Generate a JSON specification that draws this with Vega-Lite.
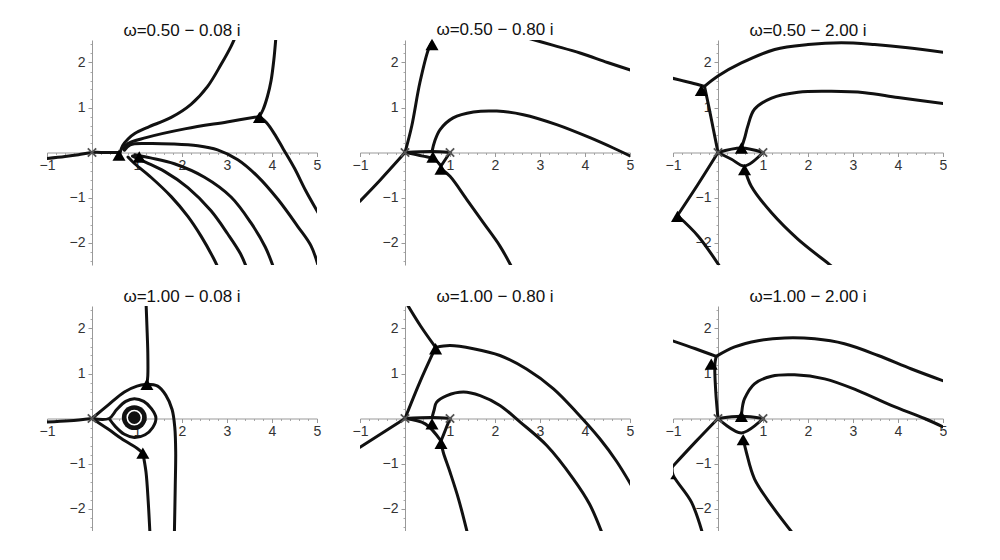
{
"$schema":"https://vega.github.io/schema/vega-lite/v6.json",
"padding":{"left":39,"top":20,"right":0,"bottom":0},
"data":{"values":[
{"p":"a","k":"l","c":"a1","o":0,"x":-1.05,"y":-0.14},{"p":"a","k":"l","c":"a1","o":1,"x":-0.6,"y":-0.09},{"p":"a","k":"l","c":"a1","o":2,"x":-0.3,"y":-0.05},{"p":"a","k":"l","c":"a1","o":3,"x":0,"y":0},{"p":"a","k":"l","c":"a1","o":4,"x":0.3,"y":0},{"p":"a","k":"l","c":"a1","o":5,"x":0.6,"y":0},
{"p":"a","k":"l","c":"a2","o":0,"x":0.62,"y":-0.02},{"p":"a","k":"l","c":"a2","o":1,"x":0.68,"y":0.15},{"p":"a","k":"l","c":"a2","o":2,"x":0.8,"y":0.3},{"p":"a","k":"l","c":"a2","o":3,"x":0.95,"y":0.42},{"p":"a","k":"l","c":"a2","o":4,"x":1.24,"y":0.56},{"p":"a","k":"l","c":"a2","o":5,"x":1.76,"y":0.78},{"p":"a","k":"l","c":"a2","o":6,"x":2.2,"y":1.07},{"p":"a","k":"l","c":"a2","o":7,"x":2.57,"y":1.47},{"p":"a","k":"l","c":"a2","o":8,"x":2.87,"y":1.96},{"p":"a","k":"l","c":"a2","o":9,"x":3.09,"y":2.36},{"p":"a","k":"l","c":"a2","o":10,"x":3.2,"y":2.6},
{"p":"a","k":"l","c":"a3","o":0,"x":0.7,"y":0.08},{"p":"a","k":"l","c":"a3","o":1,"x":0.8,"y":0.2},{"p":"a","k":"l","c":"a3","o":2,"x":1.2,"y":0.33},{"p":"a","k":"l","c":"a3","o":3,"x":2.09,"y":0.53},{"p":"a","k":"l","c":"a3","o":4,"x":3.0,"y":0.68},{"p":"a","k":"l","c":"a3","o":5,"x":3.72,"y":0.8},
{"p":"a","k":"l","c":"a4","o":0,"x":3.72,"y":0.8},{"p":"a","k":"l","c":"a4","o":1,"x":3.8,"y":0.95},{"p":"a","k":"l","c":"a4","o":2,"x":3.9,"y":1.25},{"p":"a","k":"l","c":"a4","o":3,"x":3.98,"y":1.6},{"p":"a","k":"l","c":"a4","o":4,"x":4.04,"y":2.05},{"p":"a","k":"l","c":"a4","o":5,"x":4.09,"y":2.6},
{"p":"a","k":"l","c":"a5","o":0,"x":3.72,"y":0.8},{"p":"a","k":"l","c":"a5","o":1,"x":3.88,"y":0.66},{"p":"a","k":"l","c":"a5","o":2,"x":4.05,"y":0.42},{"p":"a","k":"l","c":"a5","o":3,"x":4.25,"y":0.08},{"p":"a","k":"l","c":"a5","o":4,"x":4.5,"y":-0.35},{"p":"a","k":"l","c":"a5","o":5,"x":4.75,"y":-0.85},{"p":"a","k":"l","c":"a5","o":6,"x":5.05,"y":-1.38},
{"p":"a","k":"l","c":"a6","o":0,"x":0.72,"y":0.05},{"p":"a","k":"l","c":"a6","o":1,"x":0.85,"y":0.17},{"p":"a","k":"l","c":"a6","o":2,"x":1.2,"y":0.2},{"p":"a","k":"l","c":"a6","o":3,"x":1.8,"y":0.19},{"p":"a","k":"l","c":"a6","o":4,"x":2.35,"y":0.15},{"p":"a","k":"l","c":"a6","o":5,"x":2.79,"y":0.06},{"p":"a","k":"l","c":"a6","o":6,"x":3.24,"y":-0.16},{"p":"a","k":"l","c":"a6","o":7,"x":3.68,"y":-0.53},{"p":"a","k":"l","c":"a6","o":8,"x":4.13,"y":-1.04},{"p":"a","k":"l","c":"a6","o":9,"x":4.57,"y":-1.64},{"p":"a","k":"l","c":"a6","o":10,"x":4.87,"y":-2.08},{"p":"a","k":"l","c":"a6","o":11,"x":5.05,"y":-2.6},
{"p":"a","k":"l","c":"a7","o":0,"x":0.95,"y":-0.05},{"p":"a","k":"l","c":"a7","o":1,"x":1.3,"y":-0.12},{"p":"a","k":"l","c":"a7","o":2,"x":1.83,"y":-0.25},{"p":"a","k":"l","c":"a7","o":3,"x":2.5,"y":-0.55},{"p":"a","k":"l","c":"a7","o":4,"x":3.09,"y":-0.99},{"p":"a","k":"l","c":"a7","o":5,"x":3.53,"y":-1.56},{"p":"a","k":"l","c":"a7","o":6,"x":3.85,"y":-2.1},{"p":"a","k":"l","c":"a7","o":7,"x":4.05,"y":-2.6},
{"p":"a","k":"l","c":"a8","o":0,"x":0.9,"y":-0.08},{"p":"a","k":"l","c":"a8","o":1,"x":1.2,"y":-0.22},{"p":"a","k":"l","c":"a8","o":2,"x":1.61,"y":-0.42},{"p":"a","k":"l","c":"a8","o":3,"x":2.13,"y":-0.78},{"p":"a","k":"l","c":"a8","o":4,"x":2.64,"y":-1.29},{"p":"a","k":"l","c":"a8","o":5,"x":3.01,"y":-1.8},{"p":"a","k":"l","c":"a8","o":6,"x":3.3,"y":-2.25},{"p":"a","k":"l","c":"a8","o":7,"x":3.45,"y":-2.6},
{"p":"a","k":"l","c":"a9","o":0,"x":0.8,"y":-0.1},{"p":"a","k":"l","c":"a9","o":1,"x":0.95,"y":-0.25},{"p":"a","k":"l","c":"a9","o":2,"x":1.31,"y":-0.55},{"p":"a","k":"l","c":"a9","o":3,"x":1.76,"y":-0.98},{"p":"a","k":"l","c":"a9","o":4,"x":2.13,"y":-1.42},{"p":"a","k":"l","c":"a9","o":5,"x":2.43,"y":-1.87},{"p":"a","k":"l","c":"a9","o":6,"x":2.7,"y":-2.35},{"p":"a","k":"l","c":"a9","o":7,"x":2.82,"y":-2.6},
{"p":"a","k":"t","x":0.6,"y":-0.06},{"p":"a","k":"t","x":1.05,"y":-0.1},{"p":"a","k":"t","x":3.72,"y":0.78},{"p":"a","k":"x","x":0,"y":0},

{"p":"b","k":"l","c":"b1","o":0,"x":0,"y":0},{"p":"b","k":"l","c":"b1","o":1,"x":0.15,"y":0.59},{"p":"b","k":"l","c":"b1","o":2,"x":0.33,"y":1.55},{"p":"b","k":"l","c":"b1","o":3,"x":0.52,"y":2.29},{"p":"b","k":"l","c":"b1","o":4,"x":0.6,"y":2.45},
{"p":"b","k":"l","c":"b2","o":0,"x":0,"y":0},{"p":"b","k":"l","c":"b2","o":1,"x":-0.56,"y":-0.62},{"p":"b","k":"l","c":"b2","o":2,"x":-1.0,"y":-1.08},
{"p":"b","k":"l","c":"b3","o":0,"x":2.7,"y":2.55},{"p":"b","k":"l","c":"b3","o":1,"x":3.3,"y":2.38},{"p":"b","k":"l","c":"b3","o":2,"x":3.89,"y":2.21},{"p":"b","k":"l","c":"b3","o":3,"x":4.5,"y":2.0},{"p":"b","k":"l","c":"b3","o":4,"x":5.05,"y":1.82},
{"p":"b","k":"l","c":"b4","o":0,"x":0.6,"y":0.02},{"p":"b","k":"l","c":"b4","o":1,"x":0.66,"y":0.25},{"p":"b","k":"l","c":"b4","o":2,"x":0.78,"y":0.51},{"p":"b","k":"l","c":"b4","o":3,"x":1.07,"y":0.77},{"p":"b","k":"l","c":"b4","o":4,"x":1.52,"y":0.9},{"p":"b","k":"l","c":"b4","o":5,"x":2.04,"y":0.92},{"p":"b","k":"l","c":"b4","o":6,"x":2.63,"y":0.84},{"p":"b","k":"l","c":"b4","o":7,"x":3.37,"y":0.62},{"p":"b","k":"l","c":"b4","o":8,"x":4.11,"y":0.33},{"p":"b","k":"l","c":"b4","o":9,"x":4.63,"y":0.1},{"p":"b","k":"l","c":"b4","o":10,"x":5.05,"y":-0.1},
{"p":"b","k":"l","c":"b5","o":0,"x":0.8,"y":-0.36},{"p":"b","k":"l","c":"b5","o":1,"x":1.0,"y":-0.53},{"p":"b","k":"l","c":"b5","o":2,"x":1.37,"y":-1.04},{"p":"b","k":"l","c":"b5","o":3,"x":1.74,"y":-1.56},{"p":"b","k":"l","c":"b5","o":4,"x":2.11,"y":-2.08},{"p":"b","k":"l","c":"b5","o":5,"x":2.4,"y":-2.6},
{"p":"b","k":"l","c":"b6","o":0,"x":0,"y":0},{"p":"b","k":"l","c":"b6","o":1,"x":0.6,"y":0.02},{"p":"b","k":"l","c":"b6","o":2,"x":1.0,"y":0},
{"p":"b","k":"l","c":"b7","o":0,"x":0,"y":0},{"p":"b","k":"l","c":"b7","o":1,"x":0.4,"y":-0.08},{"p":"b","k":"l","c":"b7","o":2,"x":0.65,"y":-0.15},{"p":"b","k":"l","c":"b7","o":3,"x":0.8,"y":-0.3},
{"p":"b","k":"l","c":"b8","o":0,"x":1.0,"y":0},{"p":"b","k":"l","c":"b8","o":1,"x":0.9,"y":-0.15},{"p":"b","k":"l","c":"b8","o":2,"x":0.8,"y":-0.3},
{"p":"b","k":"t","x":0.6,"y":2.4},{"p":"b","k":"t","x":0.62,"y":-0.1},{"p":"b","k":"t","x":0.8,"y":-0.37},{"p":"b","k":"x","x":0,"y":0},{"p":"b","k":"x","x":1,"y":0},

{"p":"c","k":"l","c":"c1","o":0,"x":-1.05,"y":1.66},{"p":"c","k":"l","c":"c1","o":1,"x":-0.6,"y":1.55},{"p":"c","k":"l","c":"c1","o":2,"x":-0.3,"y":1.47},
{"p":"c","k":"l","c":"c2","o":0,"x":-0.3,"y":1.47},{"p":"c","k":"l","c":"c2","o":1,"x":0,"y":1.7},{"p":"c","k":"l","c":"c2","o":2,"x":0.52,"y":1.99},{"p":"c","k":"l","c":"c2","o":3,"x":1.26,"y":2.29},{"p":"c","k":"l","c":"c2","o":4,"x":2.0,"y":2.4},{"p":"c","k":"l","c":"c2","o":5,"x":2.74,"y":2.44},{"p":"c","k":"l","c":"c2","o":6,"x":3.48,"y":2.4},{"p":"c","k":"l","c":"c2","o":7,"x":4.22,"y":2.33},{"p":"c","k":"l","c":"c2","o":8,"x":5.05,"y":2.22},
{"p":"c","k":"l","c":"c3","o":0,"x":-0.3,"y":1.47},{"p":"c","k":"l","c":"c3","o":1,"x":-0.2,"y":1.0},{"p":"c","k":"l","c":"c3","o":2,"x":-0.1,"y":0.5},{"p":"c","k":"l","c":"c3","o":3,"x":0,"y":0},
{"p":"c","k":"l","c":"c4","o":0,"x":0.52,"y":0.1},{"p":"c","k":"l","c":"c4","o":1,"x":0.6,"y":0.35},{"p":"c","k":"l","c":"c4","o":2,"x":0.66,"y":0.58},{"p":"c","k":"l","c":"c4","o":3,"x":0.81,"y":0.96},{"p":"c","k":"l","c":"c4","o":4,"x":1.19,"y":1.21},{"p":"c","k":"l","c":"c4","o":5,"x":1.78,"y":1.34},{"p":"c","k":"l","c":"c4","o":6,"x":2.52,"y":1.36},{"p":"c","k":"l","c":"c4","o":7,"x":3.26,"y":1.33},{"p":"c","k":"l","c":"c4","o":8,"x":4.0,"y":1.22},{"p":"c","k":"l","c":"c4","o":9,"x":5.05,"y":1.08},
{"p":"c","k":"l","c":"c5","o":0,"x":0,"y":0},{"p":"c","k":"l","c":"c5","o":1,"x":-0.44,"y":-0.7},{"p":"c","k":"l","c":"c5","o":2,"x":-0.9,"y":-1.4},
{"p":"c","k":"l","c":"c6","o":0,"x":-0.9,"y":-1.4},{"p":"c","k":"l","c":"c6","o":1,"x":-0.44,"y":-1.86},{"p":"c","k":"l","c":"c6","o":2,"x":0.05,"y":-2.55},
{"p":"c","k":"l","c":"c7","o":0,"x":0.59,"y":-0.35},{"p":"c","k":"l","c":"c7","o":1,"x":0.74,"y":-0.75},{"p":"c","k":"l","c":"c7","o":2,"x":1.19,"y":-1.34},{"p":"c","k":"l","c":"c7","o":3,"x":1.78,"y":-1.93},{"p":"c","k":"l","c":"c7","o":4,"x":2.48,"y":-2.49},{"p":"c","k":"l","c":"c7","o":5,"x":2.55,"y":-2.55},
{"p":"c","k":"l","c":"c8","o":0,"x":0,"y":0},{"p":"c","k":"l","c":"c8","o":1,"x":0.52,"y":0.1},{"p":"c","k":"l","c":"c8","o":2,"x":1.0,"y":0},
{"p":"c","k":"l","c":"c9","o":0,"x":0,"y":0},{"p":"c","k":"l","c":"c9","o":1,"x":0.3,"y":-0.15},{"p":"c","k":"l","c":"c9","o":2,"x":0.59,"y":-0.3},{"p":"c","k":"l","c":"c9","o":3,"x":1.0,"y":0},
{"p":"c","k":"t","x":-0.37,"y":1.38},{"p":"c","k":"t","x":0.52,"y":0.1},{"p":"c","k":"t","x":0.59,"y":-0.38},{"p":"c","k":"t","x":-0.9,"y":-1.42},{"p":"c","k":"x","x":0,"y":0},{"p":"c","k":"x","x":1,"y":0},

{"p":"d","k":"l","c":"d1","o":0,"x":-1.05,"y":-0.08},{"p":"d","k":"l","c":"d1","o":1,"x":-0.5,"y":-0.05},{"p":"d","k":"l","c":"d1","o":2,"x":0,"y":0},
{"p":"d","k":"l","c":"d2","o":0,"x":0,"y":0},{"p":"d","k":"l","c":"d2","o":1,"x":0.35,"y":0.29},{"p":"d","k":"l","c":"d2","o":2,"x":0.72,"y":0.59},{"p":"d","k":"l","c":"d2","o":3,"x":1.0,"y":0.72},{"p":"d","k":"l","c":"d2","o":4,"x":1.22,"y":0.76},
{"p":"d","k":"l","c":"d3","o":0,"x":1.22,"y":0.76},{"p":"d","k":"l","c":"d3","o":1,"x":1.24,"y":0.95},{"p":"d","k":"l","c":"d3","o":2,"x":1.24,"y":1.47},{"p":"d","k":"l","c":"d3","o":3,"x":1.22,"y":2.07},{"p":"d","k":"l","c":"d3","o":4,"x":1.2,"y":2.6},
{"p":"d","k":"l","c":"d4","o":0,"x":1.22,"y":0.76},{"p":"d","k":"l","c":"d4","o":1,"x":1.46,"y":0.72},{"p":"d","k":"l","c":"d4","o":2,"x":1.64,"y":0.52},{"p":"d","k":"l","c":"d4","o":3,"x":1.78,"y":0.2},{"p":"d","k":"l","c":"d4","o":4,"x":1.84,"y":-0.2},{"p":"d","k":"l","c":"d4","o":5,"x":1.86,"y":-0.75},{"p":"d","k":"l","c":"d4","o":6,"x":1.85,"y":-1.5},{"p":"d","k":"l","c":"d4","o":7,"x":1.83,"y":-2.6},
{"p":"d","k":"l","c":"d5","o":0,"x":1.13,"y":-0.77},{"p":"d","k":"l","c":"d5","o":1,"x":1.2,"y":-1.19},{"p":"d","k":"l","c":"d5","o":2,"x":1.25,"y":-1.86},{"p":"d","k":"l","c":"d5","o":3,"x":1.29,"y":-2.6},
{"p":"d","k":"l","c":"d6","o":0,"x":0,"y":0},{"p":"d","k":"l","c":"d6","o":1,"x":0.35,"y":-0.23},{"p":"d","k":"l","c":"d6","o":2,"x":0.72,"y":-0.49},{"p":"d","k":"l","c":"d6","o":3,"x":1.0,"y":-0.66},{"p":"d","k":"l","c":"d6","o":4,"x":1.13,"y":-0.77},
{"p":"d","k":"l","c":"d7","o":0,"x":0,"y":0},{"p":"d","k":"l","c":"d7","o":1,"x":0.38,"y":0},{"p":"d","k":"l","c":"d7","o":2,"x":0.55,"y":0.2},{"p":"d","k":"l","c":"d7","o":3,"x":0.75,"y":0.38},{"p":"d","k":"l","c":"d7","o":4,"x":0.94,"y":0.44},{"p":"d","k":"l","c":"d7","o":5,"x":1.15,"y":0.38},{"p":"d","k":"l","c":"d7","o":6,"x":1.32,"y":0.22},{"p":"d","k":"l","c":"d7","o":7,"x":1.42,"y":0.02},{"p":"d","k":"l","c":"d7","o":8,"x":1.35,"y":-0.2},{"p":"d","k":"l","c":"d7","o":9,"x":1.18,"y":-0.36},{"p":"d","k":"l","c":"d7","o":10,"x":0.94,"y":-0.42},{"p":"d","k":"l","c":"d7","o":11,"x":0.72,"y":-0.35},{"p":"d","k":"l","c":"d7","o":12,"x":0.52,"y":-0.18},{"p":"d","k":"l","c":"d7","o":13,"x":0.38,"y":0},
{"p":"d","k":"d","x":0.94,"y":0.02},{"p":"d","k":"r","x":0.94,"y":0.02},
{"p":"d","k":"t","x":1.22,"y":0.76},{"p":"d","k":"t","x":1.13,"y":-0.77},{"p":"d","k":"x","x":0,"y":0},

{"p":"e","k":"l","c":"e1","o":0,"x":0.04,"y":2.55},{"p":"e","k":"l","c":"e1","o":1,"x":0.35,"y":2.05},{"p":"e","k":"l","c":"e1","o":2,"x":0.68,"y":1.58},
{"p":"e","k":"l","c":"e2","o":0,"x":0,"y":0},{"p":"e","k":"l","c":"e2","o":1,"x":0.33,"y":0.81},{"p":"e","k":"l","c":"e2","o":2,"x":0.68,"y":1.58},
{"p":"e","k":"l","c":"e3","o":0,"x":0.68,"y":1.58},{"p":"e","k":"l","c":"e3","o":1,"x":1.0,"y":1.62},{"p":"e","k":"l","c":"e3","o":2,"x":1.52,"y":1.55},{"p":"e","k":"l","c":"e3","o":3,"x":2.11,"y":1.4},{"p":"e","k":"l","c":"e3","o":4,"x":2.7,"y":1.1},{"p":"e","k":"l","c":"e3","o":5,"x":3.3,"y":0.66},{"p":"e","k":"l","c":"e3","o":6,"x":3.81,"y":0.14},{"p":"e","k":"l","c":"e3","o":7,"x":4.33,"y":-0.45},{"p":"e","k":"l","c":"e3","o":8,"x":4.7,"y":-0.95},{"p":"e","k":"l","c":"e3","o":9,"x":5.05,"y":-1.52},
{"p":"e","k":"l","c":"e4","o":0,"x":0.6,"y":0.02},{"p":"e","k":"l","c":"e4","o":1,"x":0.65,"y":0.2},{"p":"e","k":"l","c":"e4","o":2,"x":0.7,"y":0.36},{"p":"e","k":"l","c":"e4","o":3,"x":0.93,"y":0.51},{"p":"e","k":"l","c":"e4","o":4,"x":1.3,"y":0.59},{"p":"e","k":"l","c":"e4","o":5,"x":1.67,"y":0.51},{"p":"e","k":"l","c":"e4","o":6,"x":2.11,"y":0.29},{"p":"e","k":"l","c":"e4","o":7,"x":2.56,"y":-0.08},{"p":"e","k":"l","c":"e4","o":8,"x":3.15,"y":-0.6},{"p":"e","k":"l","c":"e4","o":9,"x":3.74,"y":-1.34},{"p":"e","k":"l","c":"e4","o":10,"x":4.1,"y":-1.9},{"p":"e","k":"l","c":"e4","o":11,"x":4.4,"y":-2.6},
{"p":"e","k":"l","c":"e5","o":0,"x":0,"y":0},{"p":"e","k":"l","c":"e5","o":1,"x":-1.0,"y":-0.64},
{"p":"e","k":"l","c":"e6","o":0,"x":0.8,"y":-0.53},{"p":"e","k":"l","c":"e6","o":1,"x":0.85,"y":-0.75},{"p":"e","k":"l","c":"e6","o":2,"x":1.0,"y":-1.19},{"p":"e","k":"l","c":"e6","o":3,"x":1.19,"y":-1.79},{"p":"e","k":"l","c":"e6","o":4,"x":1.4,"y":-2.6},
{"p":"e","k":"l","c":"e7","o":0,"x":0,"y":0},{"p":"e","k":"l","c":"e7","o":1,"x":0.6,"y":0.02},{"p":"e","k":"l","c":"e7","o":2,"x":1.0,"y":0},
{"p":"e","k":"l","c":"e8","o":0,"x":0,"y":0},{"p":"e","k":"l","c":"e8","o":1,"x":0.45,"y":-0.12},{"p":"e","k":"l","c":"e8","o":2,"x":0.8,"y":-0.5},
{"p":"e","k":"l","c":"e9","o":0,"x":1.0,"y":0},{"p":"e","k":"l","c":"e9","o":1,"x":0.9,"y":-0.25},{"p":"e","k":"l","c":"e9","o":2,"x":0.8,"y":-0.5},
{"p":"e","k":"t","x":0.68,"y":1.55},{"p":"e","k":"t","x":0.6,"y":-0.12},{"p":"e","k":"t","x":0.8,"y":-0.55},{"p":"e","k":"x","x":0,"y":0},{"p":"e","k":"x","x":1,"y":0},

{"p":"f","k":"l","c":"f1","o":0,"x":-1.05,"y":1.74},{"p":"f","k":"l","c":"f1","o":1,"x":-0.5,"y":1.55},{"p":"f","k":"l","c":"f1","o":2,"x":-0.04,"y":1.38},
{"p":"f","k":"l","c":"f2","o":0,"x":-0.04,"y":1.38},{"p":"f","k":"l","c":"f2","o":1,"x":0.37,"y":1.59},{"p":"f","k":"l","c":"f2","o":2,"x":0.89,"y":1.73},{"p":"f","k":"l","c":"f2","o":3,"x":1.48,"y":1.79},{"p":"f","k":"l","c":"f2","o":4,"x":2.15,"y":1.77},{"p":"f","k":"l","c":"f2","o":5,"x":2.81,"y":1.66},{"p":"f","k":"l","c":"f2","o":6,"x":3.56,"y":1.4},{"p":"f","k":"l","c":"f2","o":7,"x":4.3,"y":1.1},{"p":"f","k":"l","c":"f2","o":8,"x":5.05,"y":0.82},
{"p":"f","k":"l","c":"f3","o":0,"x":0,"y":0},{"p":"f","k":"l","c":"f3","o":1,"x":-0.05,"y":0.6},{"p":"f","k":"l","c":"f3","o":2,"x":-0.07,"y":1.2},{"p":"f","k":"l","c":"f3","o":3,"x":-0.04,"y":1.38},
{"p":"f","k":"l","c":"f4","o":0,"x":0.52,"y":0.05},{"p":"f","k":"l","c":"f4","o":1,"x":0.55,"y":0.3},{"p":"f","k":"l","c":"f4","o":2,"x":0.59,"y":0.44},{"p":"f","k":"l","c":"f4","o":3,"x":0.81,"y":0.77},{"p":"f","k":"l","c":"f4","o":4,"x":1.19,"y":0.94},{"p":"f","k":"l","c":"f4","o":5,"x":1.7,"y":0.97},{"p":"f","k":"l","c":"f4","o":6,"x":2.37,"y":0.88},{"p":"f","k":"l","c":"f4","o":7,"x":3.11,"y":0.62},{"p":"f","k":"l","c":"f4","o":8,"x":3.85,"y":0.29},{"p":"f","k":"l","c":"f4","o":9,"x":4.59,"y":0},{"p":"f","k":"l","c":"f4","o":10,"x":5.05,"y":-0.21},
{"p":"f","k":"l","c":"f5","o":0,"x":0,"y":0},{"p":"f","k":"l","c":"f5","o":1,"x":-0.5,"y":-0.52},{"p":"f","k":"l","c":"f5","o":2,"x":-1.02,"y":-1.08},
{"p":"f","k":"l","c":"f6","o":0,"x":-1.02,"y":-1.08},{"p":"f","k":"l","c":"f6","o":1,"x":-1.0,"y":-1.25},{"p":"f","k":"l","c":"f6","o":2,"x":-0.59,"y":-1.86},{"p":"f","k":"l","c":"f6","o":3,"x":-0.33,"y":-2.6},
{"p":"f","k":"l","c":"f7","o":0,"x":0.56,"y":-0.45},{"p":"f","k":"l","c":"f7","o":1,"x":0.63,"y":-0.75},{"p":"f","k":"l","c":"f7","o":2,"x":0.81,"y":-1.34},{"p":"f","k":"l","c":"f7","o":3,"x":1.19,"y":-1.93},{"p":"f","k":"l","c":"f7","o":4,"x":1.7,"y":-2.6},
{"p":"f","k":"l","c":"f8","o":0,"x":0,"y":0},{"p":"f","k":"l","c":"f8","o":1,"x":0.52,"y":0.05},{"p":"f","k":"l","c":"f8","o":2,"x":1.0,"y":0},
{"p":"f","k":"l","c":"f9","o":0,"x":0,"y":0},{"p":"f","k":"l","c":"f9","o":1,"x":0.52,"y":-0.32},{"p":"f","k":"l","c":"f9","o":2,"x":1.0,"y":0},
{"p":"f","k":"t","x":-0.15,"y":1.21},{"p":"f","k":"t","x":0.52,"y":0.05},{"p":"f","k":"t","x":0.56,"y":-0.47},{"p":"f","k":"s","x":-1.0,"y":-1.3},{"p":"f","k":"x","x":0,"y":0},{"p":"f","k":"x","x":1,"y":0}
]},
"facet":{"field":"p","type":"nominal","title":null,
 "header":{"labelExpr":"datum.value=='a'?'ω=0.50 − 0.08 i':datum.value=='b'?'ω=0.50 − 0.80 i':datum.value=='c'?'ω=0.50 − 2.00 i':datum.value=='d'?'ω=1.00 − 0.08 i':datum.value=='e'?'ω=1.00 − 0.80 i':'ω=1.00 − 2.00 i'",
  "labelFont":"Liberation Sans","labelFontSize":17,"labelColor":"#111","labelPadding":0}},
"columns":3,
"spacing":{"column":43,"row":41},
"bounds":"flush",
"resolve":{"axis":{"x":"independent","y":"independent"}},
"spec":{
 "width":270,"height":225,
 "resolve":{"axis":{"x":"independent","y":"independent"}},
 "layer":[
  {"transform":[{"filter":"datum.k=='l'"}],
   "mark":{"type":"line","color":"#111","strokeWidth":3,"clip":true,"interpolate":"catmull-rom","strokeJoin":"round","strokeCap":"round"},
   "encoding":{
    "x":{"field":"x","type":"quantitative","scale":{"domain":[-1,5],"nice":false,"zero":false},
     "axis":{"title":null,"orient":"bottom","offset":-112.5,"grid":false,"labels":false,"domain":false,
      "values":[-0.8,-0.6,-0.4,-0.2,0.2,0.4,0.6,0.8,1.2,1.4,1.6,1.8,2.2,2.4,2.6,2.8,3.2,3.4,3.6,3.8,4.2,4.4,4.6,4.8],
      "tickSize":2,"tickColor":"#aaa"}},
    "y":{"field":"y","type":"quantitative","scale":{"domain":[-2.5,2.5],"nice":false,"zero":false},
     "axis":{"title":null,"orient":"left","offset":-45,"grid":false,"labels":false,"domain":false,
      "values":[-2.4,-2.2,-1.8,-1.6,-1.4,-1.2,-0.8,-0.6,-0.4,-0.2,0.2,0.4,0.6,0.8,1.2,1.4,1.6,1.8,2.2,2.4],
      "tickSize":2,"tickColor":"#aaa"}},
    "detail":{"field":"c","type":"nominal"},"order":{"field":"o","type":"quantitative"}}},
  {"transform":[{"filter":"datum.k=='d'"}],
   "mark":{"type":"point","shape":"circle","filled":true,"color":"#111","size":620,"opacity":1},
   "encoding":{
    "x":{"field":"x","type":"quantitative","scale":{"domain":[-1,5],"nice":false,"zero":false},
     "axis":{"title":null,"orient":"bottom","offset":-112.5,"grid":false,"values":[-1,1,2,3,4,5],"format":"d",
      "labelFlush":false,"labelOverlap":false,"labelBound":false,"tickSize":4,
      "domainColor":"#999","tickColor":"#999","labelColor":"#333","labelFont":"Liberation Sans","labelFontSize":14,"labelPadding":2}},
    "y":{"field":"y","type":"quantitative","scale":{"domain":[-2.5,2.5],"nice":false,"zero":false},
     "axis":{"title":null,"orient":"left","offset":-45,"grid":false,"values":[-2,-1,1,2],"format":"d",
      "labelFlush":false,"labelOverlap":false,"labelBound":false,"tickSize":4,
      "domainColor":"#999","tickColor":"#999","labelColor":"#333","labelFont":"Liberation Sans","labelFontSize":14,"labelPadding":3}}}},
  {"transform":[{"filter":"datum.k=='r'"}],
   "mark":{"type":"point","shape":"circle","filled":false,"stroke":"#fff","strokeWidth":1.5,"size":200,"opacity":1},
   "encoding":{"x":{"field":"x","type":"quantitative","axis":null},"y":{"field":"y","type":"quantitative","axis":null}}},
  {"transform":[{"filter":"datum.k=='t'"}],
   "mark":{"type":"point","shape":"triangle-up","filled":true,"color":"#000","size":170,"opacity":1},
   "encoding":{"x":{"field":"x","type":"quantitative","axis":null},"y":{"field":"y","type":"quantitative","axis":null}}},
  {"transform":[{"filter":"datum.k=='s'"}],
   "mark":{"type":"point","shape":"triangle-up","filled":true,"color":"#000","size":30,"opacity":1},
   "encoding":{"x":{"field":"x","type":"quantitative","axis":null},"y":{"field":"y","type":"quantitative","axis":null}}},
  {"transform":[{"filter":"datum.k=='x'"}],
   "mark":{"type":"point","shape":"M-1,-1L1,1M-1,1L1,-1","filled":false,"stroke":"#555","strokeWidth":1.8,"size":70,"opacity":1},
   "encoding":{"x":{"field":"x","type":"quantitative","axis":null},"y":{"field":"y","type":"quantitative","axis":null}}}
 ]
},
"config":{"view":{"stroke":null},"font":"Liberation Sans"}
}
